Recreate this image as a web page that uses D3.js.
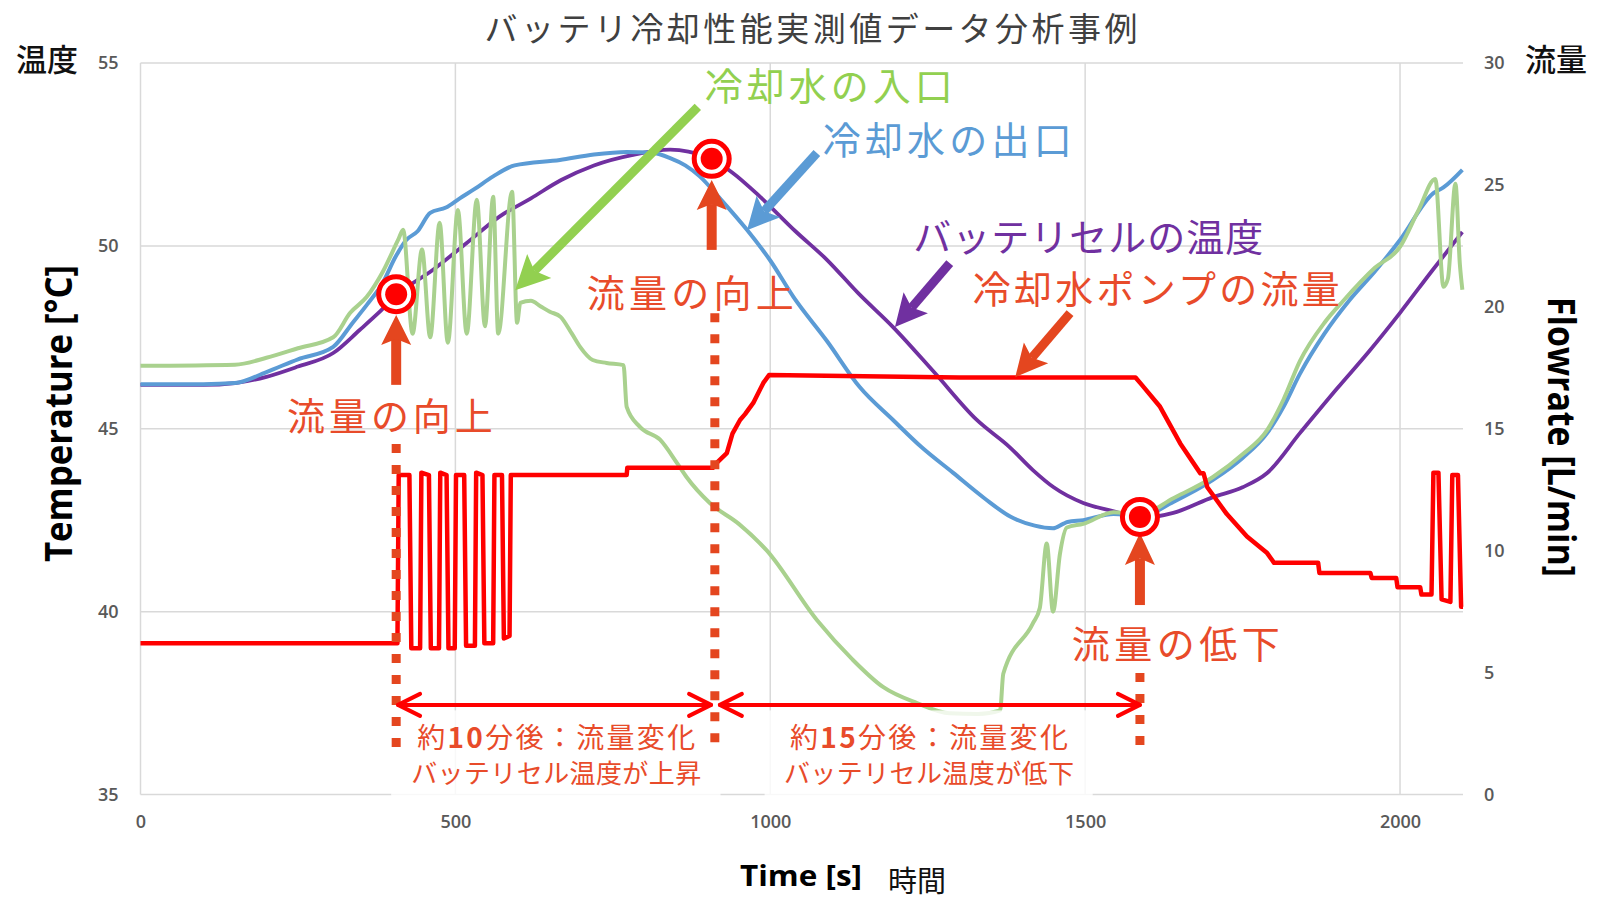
<!DOCTYPE html>
<html lang="ja">
<head>
<meta charset="utf-8">
<title>バッテリ冷却性能実測値データ分析事例</title>
<script src="https://cdn.jsdelivr.net/npm/d3@7"></script>
<style>
  html, body { margin: 0; padding: 0; background: #fff; }
  svg { display: block; }
</style>
</head>
<body>
<div id="chart"></div>
<script>
(function () {
  "use strict";

  const timeTicks = [0, 500, 1000, 1500, 2000];
  const tempTicks = [35, 40, 45, 50, 55];
  const flowTicks = [0, 5, 10, 15, 20, 25, 30];

  // [time s, degC] battery cell
  const cellTemp = [
    [0, 46.2], [100, 46.2], [150, 46.25], [200, 46.42], [250, 46.7], [306, 47.07], [348, 47.7],
    [380, 48.2], [407, 48.66], [464, 49.34], [518, 50.08], [570, 50.8], [620, 51.3], [668, 51.8],
    [720, 52.2], [782, 52.49], [841, 52.63], [870, 52.58], [906, 52.38], [940, 52.0], [984, 51.34],
    [1040, 50.4], [1090, 49.62], [1140, 48.7], [1195, 47.78], [1260, 46.55], [1328, 45.24],
    [1380, 44.5], [1417, 43.87], [1450, 43.4], [1497, 42.97], [1544, 42.75], [1587, 42.56],
    [1640, 42.7], [1703, 43.13], [1750, 43.4], [1789, 43.79], [1841, 44.88], [1900, 46.1],
    [1950, 47.1], [2000, 48.17], [2050, 49.3], [2099, 50.38]
  ];

  // [time s, degC] coolant outlet
  const outletTemp = [
    [0, 46.22], [100, 46.22], [150, 46.25], [200, 46.55], [250, 46.9], [306, 47.24], [337, 47.9],
    [360, 48.4], [385, 49.0], [405, 49.7], [422, 50.16], [440, 50.4], [460, 50.9], [485, 51.05],
    [507, 51.3], [530, 51.55], [560, 51.9], [594, 52.2], [666, 52.35], [720, 52.5], [772, 52.57],
    [810, 52.55], [841, 52.4], [865, 52.2], [888, 51.9], [920, 51.3], [963, 50.44], [1000, 49.6],
    [1037, 48.6], [1090, 47.4], [1142, 46.14], [1195, 45.24], [1240, 44.5], [1290, 43.8],
    [1340, 43.1], [1381, 42.6], [1420, 42.35], [1449, 42.28], [1465, 42.4], [1472, 42.45],
    [1497, 42.5], [1545, 42.67], [1587, 42.6], [1640, 43.0], [1703, 43.6], [1750, 44.2],
    [1789, 44.88], [1815, 45.6], [1841, 46.5], [1880, 47.6], [1920, 48.52], [1960, 49.3],
    [2000, 50.16], [2053, 51.44], [2069, 51.6], [2099, 52.08]
  ];

  // [time s, degC] coolant inlet
  const inletTemp = [
    [0, 46.72], [150, 46.75], [200, 46.94], [250, 47.2], [306, 47.5], [333, 48.17], [359, 48.6],
    [385, 49.3], [410, 50.2], [417, 50.44], [432, 47.6], [447, 49.9], [460, 47.5], [475, 50.63],
    [488, 47.35], [504, 50.98], [518, 47.6], [534, 51.26], [547, 47.8], [560, 51.34], [568, 47.6],
    [590, 51.48], [598, 47.9], [603, 48.44], [620, 48.5], [635, 48.35], [650, 48.2], [667, 48.06],
    [685, 47.6], [698, 47.24], [718, 46.88], [740, 46.8], [767, 46.74], [772, 45.6], [793, 45.05],
    [825, 44.7], [852, 44.06], [867, 43.68], [904, 42.97], [950, 42.4], [994, 41.68],
    [1074, 39.77], [1130, 38.7], [1179, 37.94], [1233, 37.5], [1285, 37.22], [1330, 37.2],
    [1365, 37.3], [1370, 38.3], [1417, 39.68], [1428, 40.1], [1439, 41.86], [1449, 40.0],
    [1460, 41.58], [1471, 42.3], [1497, 42.4], [1545, 42.72], [1587, 42.65], [1640, 43.1],
    [1703, 43.68], [1750, 44.3], [1789, 44.96], [1815, 45.8], [1841, 46.85], [1880, 47.9],
    [1910, 48.5], [1960, 49.4], [2000, 49.97], [2030, 51.0], [2056, 51.83], [2069, 48.88],
    [2076, 49.1], [2088, 51.7], [2095, 49.5], [2099, 48.8]
  ];

  // [time s, L/min] coolant pump flow
  const pumpFlow = [
    [0, 6.2], [408, 6.2], [410, 13.1], [427, 13.1], [430, 6.0], [444, 6.0], [446, 13.2],
    [458, 13.1], [461, 6.0], [474, 6.0], [476, 13.2], [486, 13.1], [489, 6.0], [499, 6.0],
    [501, 13.1], [514, 13.1], [517, 6.1], [531, 6.1], [533, 13.2], [543, 13.1], [546, 6.2],
    [560, 6.2], [562, 13.1], [574, 13.1], [577, 6.4], [586, 6.5], [588, 13.1], [772, 13.1],
    [773, 13.4], [909, 13.4], [915, 13.6], [931, 14.0], [940, 14.8], [952, 15.36], [960, 15.6],
    [973, 16.06], [989, 16.88], [998, 17.2], [1300, 17.1], [1580, 17.1], [1590, 16.8],
    [1619, 15.9], [1651, 14.4], [1683, 13.17], [1688, 13.17], [1694, 12.6], [1725, 11.5],
    [1757, 10.58], [1789, 9.9], [1800, 9.5], [1870, 9.5], [1872, 9.08], [1953, 9.08],
    [1955, 8.88], [1994, 8.88], [1996, 8.5], [2032, 8.5], [2034, 8.2], [2050, 8.2], [2053, 13.2],
    [2061, 13.2], [2066, 8.0], [2080, 7.9], [2083, 13.1], [2092, 13.1], [2097, 7.7], [2100, 7.7]
  ];

  // points where the flow was changed [time s, degC]
  const changePoints = [[406, 48.68], [907, 52.38], [1587, 42.59]];

  const width = 1600;
  const height = 913;
  const x = d3.scaleLinear().domain([0, 2100]).range([140.5, 1463]);
  const yT = d3.scaleLinear().domain([35, 55]).range([794.5, 63]);
  const yF = d3.scaleLinear().domain([0, 30]).range([794.5, 63]);

  const RED_TXT = "#e84b2a";
  const RED_ARR = "#e4461f";
  const GREEN = "#92d050";
  const BLUE = "#5b9bd5";
  const PURPLE = "#7030a0";
  const JP = "'Noto Sans CJK JP', 'Noto Sans', sans-serif";
  const LAT = "'Open Sans', 'Noto Sans', sans-serif";

  const svg = d3.select("#chart").append("svg").attr("width", width).attr("height", height);
  svg.append("rect").attr("width", width).attr("height", height).attr("fill", "#fff");

  // grid
  const grid = svg.append("g").attr("stroke", "#d9d9d9").attr("stroke-width", 1.5);
  grid.selectAll("line.h").data(tempTicks).enter().append("line")
    .attr("x1", x(0)).attr("x2", x(2100))
    .attr("y1", function (d) { return yT(d); }).attr("y2", function (d) { return yT(d); });
  grid.selectAll("line.v").data(timeTicks).enter().append("line")
    .attr("x1", function (d) { return x(d); }).attr("x2", function (d) { return x(d); })
    .attr("y1", yT(55)).attr("y2", yT(35));

  function styleAxis(g) {
    g.select(".domain").remove();
    g.selectAll("line").remove();
    g.selectAll("text").attr("fill", "#595959").attr("font-size", 18)
      .attr("font-family", LAT).attr("font-weight", 600);
  }

  svg.append("g").attr("transform", "translate(" + x(0) + ",0)")
    .call(d3.axisLeft(yT).tickValues(tempTicks).tickSize(0).tickPadding(22))
    .call(styleAxis);
  svg.append("g").attr("transform", "translate(" + x(2100) + ",0)")
    .call(d3.axisRight(yF).tickValues(flowTicks).tickSize(0).tickPadding(21))
    .call(styleAxis);
  svg.append("g").attr("transform", "translate(0," + yT(35) + ")")
    .call(d3.axisBottom(x).tickValues(timeTicks).tickFormat(d3.format("d")).tickSize(0).tickPadding(21))
    .call(styleAxis);

  // series
  const tLine = d3.line().curve(d3.curveMonotoneX)
    .x(function (d) { return x(d[0]); }).y(function (d) { return yT(d[1]); });
  const fLine = d3.line().x(function (d) { return x(d[0]); }).y(function (d) { return yF(d[1]); });

  const series = [
    { data: cellTemp, gen: tLine, color: PURPLE, w: 3.8 },
    { data: outletTemp, gen: tLine, color: BLUE, w: 4 },
    { data: inletTemp, gen: tLine, color: "#a9d18e", w: 4 },
    { data: pumpFlow, gen: fLine, color: "#ff0000", w: 4.5 }
  ];
  svg.append("g").selectAll("path").data(series).enter().append("path")
    .attr("d", function (s) { return s.gen(s.data); })
    .attr("fill", "none")
    .attr("stroke", function (s) { return s.color; })
    .attr("stroke-width", function (s) { return s.w; })
    .attr("stroke-linejoin", "round");

  // text boxes at the bottom (white, partly covering the plot)
  const notes = svg.append("g");
  [[398, 921], [991, 1512]].forEach(function (span) {
    notes.append("rect")
      .attr("x", x(span[0])).attr("width", x(span[1]) - x(span[0]))
      .attr("y", yT(37.3)).attr("height", yT(34.9) - yT(37.3))
      .attr("fill", "#fff").attr("opacity", 0.82);
  });

  // dotted markers of the flow changes
  const dotted = [[406, 44.58], [912, 48.16], [1587, 38.32]];
  svg.append("g").selectAll("line").data(dotted).enter().append("line")
    .attr("x1", function (d) { return x(d[0]); }).attr("x2", function (d) { return x(d[0]); })
    .attr("y1", function (d) { return yT(d[1]); }).attr("y2", yT(36.27))
    .attr("stroke", RED_ARR).attr("stroke-width", 9).attr("stroke-dasharray", "9,12");

  // double arrows
  const spans = [[409, 906], [920, 1587]];
  const ya = yT(37.45);
  spans.forEach(function (s) {
    const a = x(s[0]), b = x(s[1]);
    const g = svg.append("g").attr("stroke", "#ff0000").attr("stroke-width", 4)
      .attr("fill", "none").attr("stroke-linecap", "round").attr("stroke-linejoin", "round");
    g.append("line").attr("x1", a).attr("x2", b).attr("y1", ya).attr("y2", ya);
    g.append("polyline").attr("points", [[a + 22, ya - 11], [a, ya], [a + 22, ya + 11]].join(" "));
    g.append("polyline").attr("points", [[b - 22, ya - 11], [b, ya], [b - 22, ya + 11]].join(" "));
  });

  function arrow(from, to, color, shaft, half, len) {
    const x1 = x(from[0]), y1 = yT(from[1]), x2 = x(to[0]), y2 = yT(to[1]);
    const dx = x2 - x1, dy = y2 - y1, l = Math.hypot(dx, dy);
    const ux = dx / l, uy = dy / l;
    const bx = x2 - ux * len, by = y2 - uy * len;
    const nx = x2 - ux * len * 0.8, ny = y2 - uy * len * 0.8;
    svg.append("line").attr("x1", x1).attr("y1", y1).attr("x2", nx).attr("y2", ny)
      .attr("stroke", color).attr("stroke-width", shaft);
    svg.append("path")
      .attr("d", "M" + x2 + "," + y2 +
        "L" + (bx - uy * half) + "," + (by + ux * half) +
        "L" + nx + "," + ny +
        "L" + (bx + uy * half) + "," + (by - ux * half) + "Z")
      .attr("fill", color);
  }

  // up arrows under the change points
  arrow([406, 46.2], [406, 48.11], RED_ARR, 10, 15, 30);
  arrow([907, 49.89], [907, 51.8], RED_ARR, 10, 15, 30);
  arrow([1587, 40.18], [1587, 42.15], RED_ARR, 10, 15, 32);

  // pointer arrows to the series
  arrow([885, 53.8], [595, 48.79], GREEN, 9, 17, 34);
  arrow([1074, 52.54], [963, 50.43], BLUE, 9, 16, 32);
  arrow([1285, 49.53], [1198, 47.78], PURPLE, 9, 16, 32);
  arrow([1476, 48.16], [1389, 46.41], RED_ARR, 9, 16, 32);

  // ring markers
  const rings = svg.append("g").selectAll("g").data(changePoints).enter().append("g")
    .attr("transform", function (d) { return "translate(" + x(d[0]) + "," + yT(d[1]) + ")"; });
  rings.append("circle").attr("r", 17.5).attr("fill", "#fff").attr("stroke", "#ff0000").attr("stroke-width", 5);
  rings.append("circle").attr("r", 11).attr("fill", "#ff0000");

  // annotation labels [text, time, degC, colour, size, length]
  const labels = [
    ["冷却水の入口", 1093, 54.43, GREEN, 38, 248],
    ["冷却水の出口", 1281, 52.95, BLUE, 38, 249],
    ["バッテリセルの温度", 1505, 50.3, PURPLE, 38, 350],
    ["冷却水ポンプの流量", 1613, 48.9, RED_TXT, 38, 367],
    ["流量の向上", 396, 45.43, RED_TXT, 38, 206],
    ["流量の向上", 873, 48.77, RED_TXT, 38, 207],
    ["流量の低下", 1644, 39.17, RED_TXT, 38, 208]
  ];
  svg.append("g").selectAll("text").data(labels).enter().append("text")
    .attr("x", function (d) { return x(d[1]); })
    .attr("y", function (d) { return yT(d[2]); })
    .attr("fill", function (d) { return d[3]; })
    .attr("font-size", function (d) { return d[4]; })
    .attr("font-family", JP)
    .attr("text-anchor", "middle")
    .attr("dominant-baseline", "central")
    .attr("textLength", function (d) { return d[5]; })
    .attr("lengthAdjust", "spacing")
    .text(function (d) { return d[0]; });

  // two-line notes in the boxes
  const boxNotes = [
    [660, "約", "10", "分後：流量変化", "バッテリセル温度が上昇"],
    [1252, "約", "15", "分後：流量変化", "バッテリセル温度が低下"]
  ];
  boxNotes.forEach(function (n) {
    const t1 = svg.append("text").attr("x", x(n[0])).attr("y", yT(36.6))
      .attr("fill", RED_TXT).attr("font-size", 28).attr("font-family", JP)
      .attr("text-anchor", "middle").attr("dominant-baseline", "central")
      .attr("textLength", 278).attr("lengthAdjust", "spacing");
    t1.append("tspan").text(n[1]);
    t1.append("tspan").attr("font-weight", 700).text(n[2]);
    t1.append("tspan").text(n[3]);
    svg.append("text").attr("x", x(n[0])).attr("y", yT(35.64))
      .attr("fill", RED_TXT).attr("font-size", 26).attr("font-family", JP)
      .attr("text-anchor", "middle").attr("dominant-baseline", "central")
      .attr("textLength", 290).attr("lengthAdjust", "spacing")
      .text(n[4]);
  });

  // titles
  svg.append("text").attr("x", 811).attr("y", 27)
    .attr("fill", "#404040").attr("font-size", 33).attr("font-family", JP)
    .attr("text-anchor", "middle").attr("dominant-baseline", "central")
    .attr("textLength", 653).attr("lengthAdjust", "spacing")
    .text("バッテリ冷却性能実測値データ分析事例");

  svg.append("text").attr("x", 47).attr("y", 57)
    .attr("fill", "#111").attr("font-size", 31).attr("font-family", JP).attr("font-weight", 500)
    .attr("text-anchor", "middle").attr("dominant-baseline", "central").text("温度");
  svg.append("text").attr("x", 1556).attr("y", 57)
    .attr("fill", "#111").attr("font-size", 31).attr("font-family", JP).attr("font-weight", 500)
    .attr("text-anchor", "middle").attr("dominant-baseline", "central").text("流量");

  svg.append("text").attr("transform", "translate(57,413.5) rotate(-90)")
    .attr("fill", "#000").attr("font-size", 37).attr("font-family", LAT).attr("font-weight", 700)
    .attr("text-anchor", "middle").attr("dominant-baseline", "central")
    .attr("textLength", 297).attr("lengthAdjust", "spacingAndGlyphs")
    .text("Temperature [°C]");
  svg.append("text").attr("transform", "translate(1562,437) rotate(90)")
    .attr("fill", "#000").attr("font-size", 37).attr("font-family", LAT).attr("font-weight", 700)
    .attr("text-anchor", "middle").attr("dominant-baseline", "central")
    .attr("textLength", 280).attr("lengthAdjust", "spacingAndGlyphs")
    .text("Flowrate [L/min]");
  svg.append("text").attr("x", 801).attr("y", 874)
    .attr("fill", "#000").attr("font-size", 29).attr("font-family", LAT).attr("font-weight", 700)
    .attr("text-anchor", "middle").attr("dominant-baseline", "central")
    .attr("textLength", 122).attr("lengthAdjust", "spacingAndGlyphs")
    .text("Time [s]");
  svg.append("text").attr("x", 917).attr("y", 879)
    .attr("fill", "#111").attr("font-size", 29).attr("font-family", JP)
    .attr("text-anchor", "middle").attr("dominant-baseline", "central").text("時間");
})();
</script>
</body>
</html>
